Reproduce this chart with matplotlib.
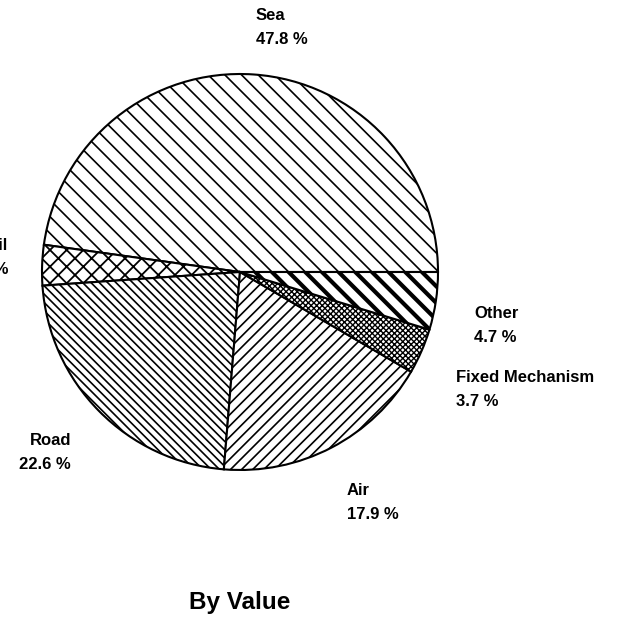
import matplotlib.pyplot as plt

plt.rcParams['font.family'] = ['Liberation Sans', 'DejaVu Sans']
plt.rcParams['hatch.linewidth'] = 1.3

labels = ['Sea', 'Rail', 'Road', 'Air', 'Fixed Mechanism', 'Other']
shares = [47.8, 3.3, 22.6, 17.9, 3.7, 4.7]
hatches = ['\\\\', 'xx', '\\\\\\\\', '///', 'xxxxxx', '\\\\']
hatch_lw = [1.2, 1.3, 1.2, 1.2, 1.0, 3.0]

W = 619
cx, cy, r = 240, 272, 198

fig = plt.figure(figsize=(W / 100, W / 100), dpi=100)
ax = fig.add_axes([0, 0, 1, 1])

wedges, _ = ax.pie(shares, startangle=0, counterclock=True, radius=1,
                   colors=['white'] * len(shares),
                   wedgeprops=dict(edgecolor='black', linewidth=1.5))
for w, h, lw in zip(wedges, hatches, hatch_lw):
    w.set_hatch(h)
    if hasattr(w, 'set_hatch_linewidth'):
        w.set_hatch_linewidth(lw)

ax.set_xlim(-cx / r, (W - cx) / r)
ax.set_ylim(-(W - cy) / r, cy / r)
ax.set_aspect('equal')
ax.axis('off')


def px(x, y):
    return (x - cx) / r, (cy - y) / r


# label positions in pixels (x, y of first line, alignment)
label_pos = {
    'Sea': (256, 15, 'left'),
    'Rail': (8, 245, 'right'),
    'Road': (71, 440, 'right'),
    'Air': (347, 490, 'left'),
    'Fixed Mechanism': (456, 377, 'left'),
    'Other': (474, 313, 'left'),
}
for name, val in zip(labels, shares):
    x, y, ha = label_pos[name]
    ax.text(*px(x, y), name, ha=ha, va='center', fontsize=12,
            fontweight='bold')
    ax.text(*px(x, y + 24), f'{val} %', ha=ha, va='center', fontsize=12,
            fontweight='bold')

ax.text(*px(240, 602), 'By Value', ha='center', va='center',
        fontsize=17.5, fontweight='bold')

fig.savefig('out.png', dpi=100)
